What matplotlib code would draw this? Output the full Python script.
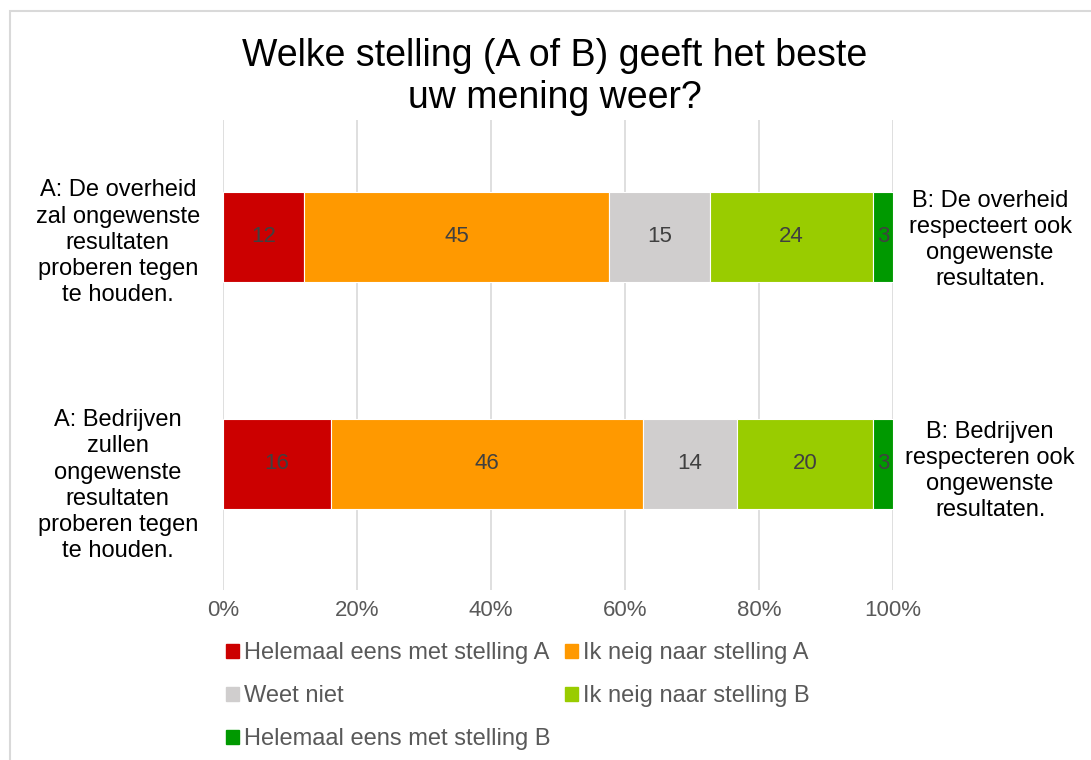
import matplotlib
matplotlib.use("Agg")
import matplotlib.pyplot as plt
import numpy as np
from matplotlib.patches import Rectangle, Patch

plt.rcParams["font.family"] = ["Liberation Sans", "DejaVu Sans"]

# data
rows = ["overheid", "bedrijven"]
series = [
    "Helemaal eens met stelling A",
    "Ik neig naar stelling A",
    "Weet niet",
    "Ik neig naar stelling B",
    "Helemaal eens met stelling B",
]
values = np.array([
    [12, 45, 15, 24, 3],
    [16, 46, 14, 20, 3],
], dtype=float)
colors = ["#CC0000", "#FF9900", "#D0CECE", "#99CC00", "#009900"]
left_labels = [
    "A: De overheid\nzal ongewenste\nresultaten\nproberen tegen\nte houden.",
    "A: Bedrijven\nzullen\nongewenste\nresultaten\nproberen tegen\nte houden.",
]
right_labels = [
    "B: De overheid\nrespecteert ook\nongewenste\nresultaten.",
    "B: Bedrijven\nrespecteren ook\nongewenste\nresultaten.",
]
ticks = [0, 0.2, 0.4, 0.6, 0.8, 1.0]
tick_labels = ["0%", "20%", "40%", "60%", "80%", "100%"]
title = "Welke stelling (A of B) geeft het beste\nuw mening weer?"

W, H = 1091, 760
fig = plt.figure(figsize=(W / 100, H / 100), dpi=100)

# chart frame
fig.patches.append(Rectangle((10 / W, -0.1), 1.2, 1 - 11 / H + 0.1,
                             transform=fig.transFigure, fill=False,
                             edgecolor="#D9D9D9", linewidth=1.5))

ax = fig.add_axes([223 / W, 1 - 590 / H, 670 / W, 470 / H])

shares = values / values.sum(axis=1, keepdims=True)
ypos = np.arange(len(rows))
left = np.zeros(len(rows))
for j, name in enumerate(series):
    ax.barh(ypos, shares[:, j], left=left, height=0.4, color=colors[j],
            edgecolor="white", linewidth=0.8, label=name, zorder=3)
    for i in range(len(rows)):
        ax.text(left[i] + shares[i, j] / 2, ypos[i], f"{values[i, j]:.0f}",
                ha="center", va="center", fontsize=16, color="#404040", zorder=4)
    left += shares[:, j]

ax.set_xlim(0, 1)
ax.set_ylim(1.555, -0.515)
ax.set_xticks(ticks)
ax.set_xticklabels(tick_labels, fontsize=16, color="#595959")
ax.tick_params(axis="x", length=0, pad=7)
ax.set_yticks([])
ax.grid(axis="x", color="#D9D9D9", linewidth=1.2, zorder=0)
for s in ax.spines.values():
    s.set_visible(False)

# statement labels at both ends
left_off = [0.025, 0.095]
right_off = [0.013, 0.03]
for i in range(len(rows)):
    ax.text(-0.157, ypos[i] + left_off[i], left_labels[i], transform=ax.get_yaxis_transform(),
            ha="center", va="center", fontsize=17, linespacing=1.24, clip_on=False)
    ax.text(1.145, ypos[i] + right_off[i], right_labels[i], transform=ax.get_yaxis_transform(),
            ha="center", va="center", fontsize=17, linespacing=1.24, clip_on=False)

fig.text(555 / W, 1 - 77 / H, title, ha="center", va="center", fontsize=27,
         linespacing=1.25)

handles = [Patch(color=c) for c in colors]
order = [0, 2, 4, 1, 3]
leg = fig.legend([handles[k] for k in order], [series[k] for k in order],
                 ncol=2, loc="upper left", bbox_to_anchor=(226 / W, 1 - 642 / H),
                 frameon=False, fontsize=17, handlelength=0.55, handleheight=0.55,
                 handletextpad=0.2, columnspacing=0.62, labelspacing=0.9,
                 borderaxespad=0, borderpad=0)
for t in leg.get_texts():
    t.set_color("#595959")

fig.savefig("out.png", dpi=100)
